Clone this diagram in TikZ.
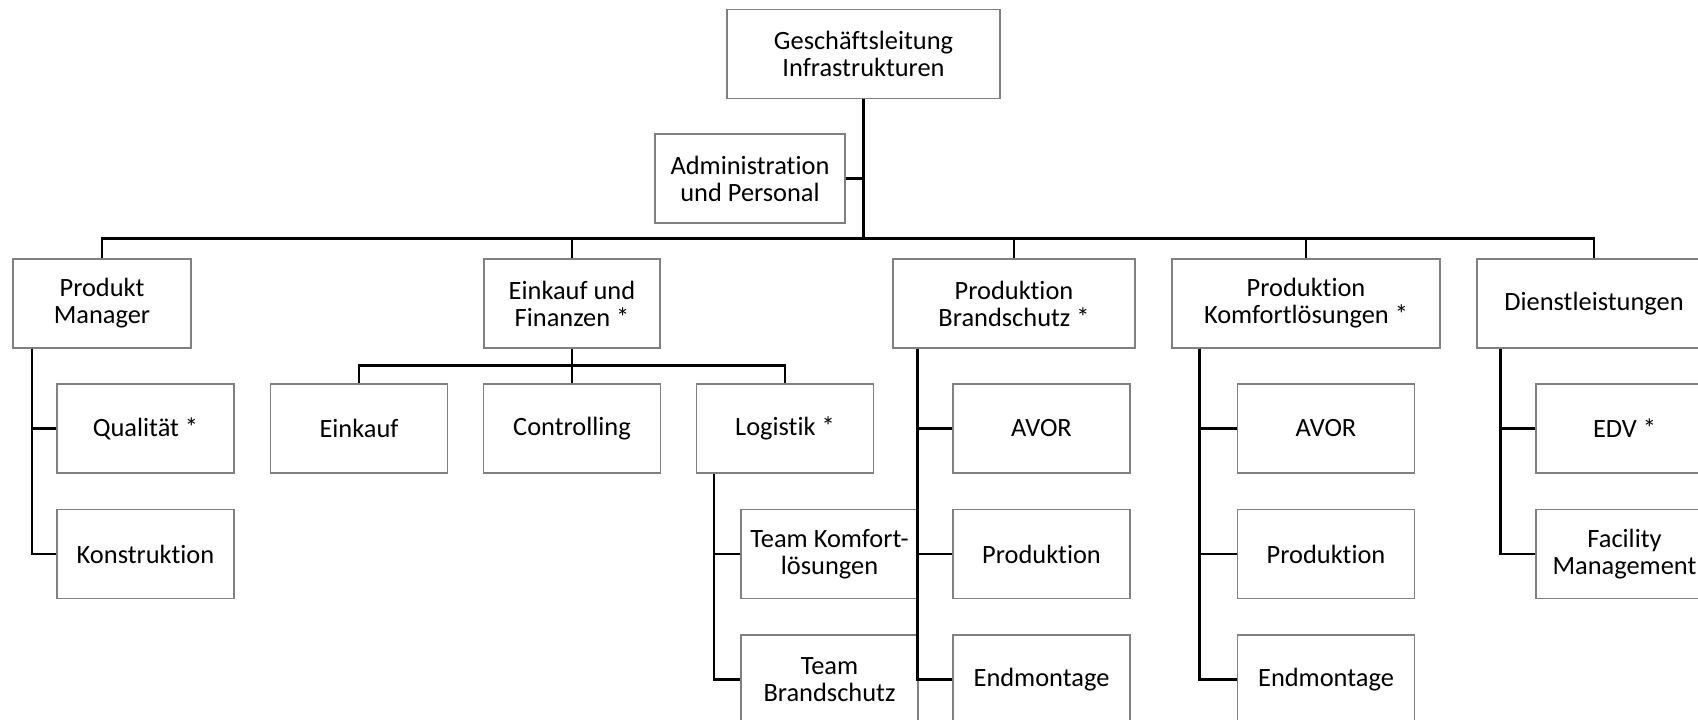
\documentclass[tikz,border=0pt]{standalone}
\usepackage{fontspec}
\setmainfont[Ligatures={NoCommon}, RawFeature={-liga;-clig}]{Carlito}
\usetikzlibrary{calc}

\definecolor{boxgray}{RGB}{128,128,128}

\tikzset{
  box/.style={draw=boxgray, line width=0.8pt, fill=white, align=center,
    inner sep=0pt, minimum height=66.75pt, minimum width=132.75pt,
    font=\fontsize{19.8}{20.3}\selectfont},
  conn/.style={line width=1.6pt}
}

\begin{document}
\begin{tikzpicture}[x=0.75pt,y=-0.75pt]
    \useasboundingbox (0,0) rectangle (1698,720);
    \clip (0,0) rectangle (1698,720);
    %%top
    \node[box, minimum width=204.75pt] (gl) at (863.5,54) {Geschäftsleitung\\Infrastrukturen};
    \node[box, minimum width=142.5pt] (adm) at (750,178.5) {Administration\\und Personal};
    %%second level
    \node[box, minimum width=133.5pt] (pm) at (102,303.5) {Produkt\\Manager};
    \node[box, minimum width=132pt] (ef) at (572,303.5) {Einkauf und\\Finanzen *};
    \node[box, minimum width=181.5pt] (pb) at (1014,303.5) {Produktion\\Brandschutz *};
    \node[box, minimum width=201pt] (pk) at (1306,303.5) {Produktion\\Komfortlösungen *};
    \node[box, minimum width=175.5pt] (dl) at (1594,303.5) {Dienstleistungen};
    %%third level
    \node[box] (qa) at (145.5,428.5) {Qualität *};
    \node[box] (ko) at (145.5,554) {Konstruktion};
    \node[box] (ek) at (359,428.5) {Einkauf};
    \node[box] (ct) at (572,428.5) {Controlling};
    \node[box] (lg) at (785,428.5) {Logistik *};
    \node[box] (tk) at (829.5,554) {Team Komfort-\\lösungen};
    \node[box] (tb) at (829.5,679.5) {Team\\Brandschutz};
    \node[box] (av1) at (1041.5,428.5) {AVOR};
    \node[box] (pr1) at (1041.5,554) {Produktion};
    \node[box] (em1) at (1041.5,679.5) {Endmontage};
    \node[box] (av2) at (1326,428.5) {AVOR};
    \node[box] (pr2) at (1326,554) {Produktion};
    \node[box] (em2) at (1326,679.5) {Endmontage};
    \node[box] (edv) at (1624.5,428.5) {EDV *};
    \node[box] (fm) at (1624.5,554) {Facility\\Management};
    %%bus
    \draw[conn] (adm.east) -- (adm.east -| gl.south);
    \draw[conn] (pm.north) -- ++(0,-20) -| (gl.south);
    \draw[conn] (ef.north) -- ++(0,-20) -| (gl.south);
    \draw[conn] (pb.north) -- ++(0,-20) -| (gl.south);
    \draw[conn] (pk.north) -- ++(0,-20) -| (gl.south);
    \draw[conn] (dl.north) -- ++(0,-20) -| (gl.south);
    %%einkauf
    \draw[conn] (ek.north) -- ++(0,-18) -| (ef.south);
    \draw[conn] (ct.north) -- ++(0,-18) -| (ef.south);
    \draw[conn] (lg.north) -- ++(0,-18) -| (ef.south);
    %%side branches
    \draw[conn] ($(pm.south west)+(19.5,0)$) |- (ko.west);
    \draw[conn] ($(pm.south west)+(19.5,0)$) |- (qa.west);
    \draw[conn] ($(lg.south west)+(18,0)$) |- (tb.west);
    \draw[conn] ($(lg.south west)+(18,0)$) |- (tk.west);
    \draw[conn] ($(pb.south west)+(25,0)$) |- (em1.west);
    \draw[conn] ($(pb.south west)+(25,0)$) |- (pr1.west);
    \draw[conn] ($(pb.south west)+(25,0)$) |- (av1.west);
    \draw[conn] ($(pk.south west)+(28,0)$) |- (em2.west);
    \draw[conn] ($(pk.south west)+(28,0)$) |- (pr2.west);
    \draw[conn] ($(pk.south west)+(28,0)$) |- (av2.west);
    \draw[conn] ($(dl.south west)+(24,0)$) |- (fm.west);
    \draw[conn] ($(dl.south west)+(24,0)$) |- (edv.west);
\end{tikzpicture}
\end{document}
